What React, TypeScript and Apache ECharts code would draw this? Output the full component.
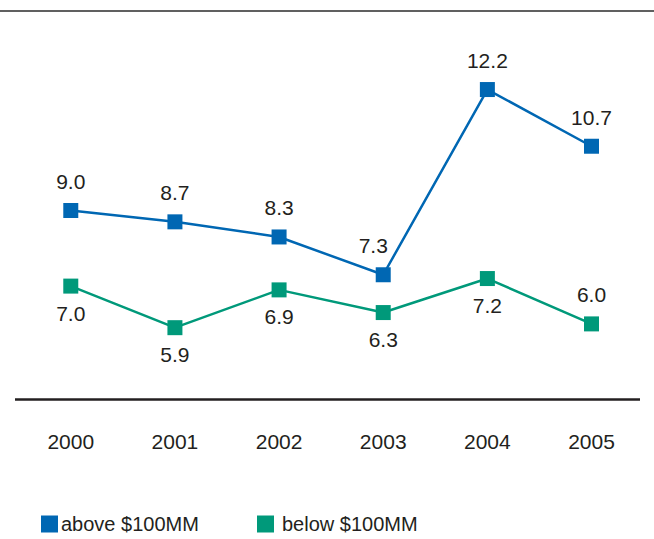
import React, { useEffect, useRef } from "react";
import * as echarts from "echarts";

const years = ["2000", "2001", "2002", "2003", "2004", "2005"];
const aboveValues = [9.0, 8.7, 8.3, 7.3, 12.2, 10.7];
const belowValues = [7.0, 5.9, 6.9, 6.3, 7.2, 6.0];
const belowLabelSide = ["bottom", "bottom", "bottom", "bottom", "bottom", "top"];
const aboveLabelShiftX = [0, 0, 0, -10, 0, 0];
const seriesNames = ["above $100MM", "below $100MM"];

const BLUE = "#0067b3";
const GREEN = "#00997a";
const TEXT = "#231f20";
const FONT = "'Liberation Sans', Arial, sans-serif";

export default function App() {
  const ref = useRef<HTMLDivElement>(null);
  useEffect(() => {
    if (!ref.current) return;
    const chart = echarts.init(ref.current, undefined, { renderer: "svg" });
    const labelCommon = {
      show: true,
      color: TEXT,
      fontFamily: FONT,
      fontSize: 21,
      formatter: (p: any) => Number(p.value).toFixed(1),
    };
    chart.setOption({
      animation: false,
      backgroundColor: "#ffffff",
      grid: { left: 18.7, right: 10.4, top: 21.5, bottom: 139.5 },
      xAxis: {
        type: "category",
        data: years,
        boundaryGap: true,
        axisLine: { show: false },
        axisTick: { show: false },
        axisLabel: { color: TEXT, fontFamily: FONT, fontSize: 21, margin: 31 },
      },
      yAxis: {
        type: "value",
        min: 4,
        max: 14,
        show: false,
        splitLine: { show: false },
      },
      legend: [
        {
          data: [seriesNames[0]],
          left: 41,
          top: 514,
          padding: 0,
          icon: "rect",
          itemWidth: 17,
          itemHeight: 17,
          textStyle: { color: TEXT, fontFamily: FONT, fontSize: 20, padding: [0, 0, 0, -2] },
        },
        {
          data: [seriesNames[1]],
          left: 257,
          top: 514,
          padding: 0,
          icon: "rect",
          itemWidth: 17,
          itemHeight: 17,
          textStyle: { color: TEXT, fontFamily: FONT, fontSize: 20, padding: [0, 0, 0, 3] },
        },
      ],
      graphic: [
        {
          type: "line",
          shape: { x1: 0, y1: 11, x2: 654, y2: 11 },
          style: { stroke: "#2b2b2b", lineWidth: 1.6 },
        },
        {
          type: "line",
          shape: { x1: 15, y1: 399.5, x2: 640, y2: 399.5 },
          style: { stroke: TEXT, lineWidth: 2.5 },
        },
      ],
      series: [
        {
          name: seriesNames[0],
          type: "line",
          data: aboveValues.map((v, i) => ({
            value: v,
            label: { offset: [aboveLabelShiftX[i], 0] },
          })),
          symbol: "rect",
          symbolSize: 15,
          itemStyle: { color: BLUE },
          lineStyle: { color: BLUE, width: 2.5 },
          label: { ...labelCommon, position: "top", distance: 11 },
        },
        {
          name: seriesNames[1],
          type: "line",
          data: belowValues.map((v, i) => ({
            value: v,
            label: { position: belowLabelSide[i], distance: belowLabelSide[i] === "top" ? 11 : 9 },
          })),
          symbol: "rect",
          symbolSize: 15,
          itemStyle: { color: GREEN },
          lineStyle: { color: GREEN, width: 2.5 },
          label: { ...labelCommon, position: "bottom", distance: 9 },
        },
      ],
    });
    return () => chart.dispose();
  }, []);
  return (
    <div
      ref={ref}
      style={{ position: "fixed", left: 0, top: 0, width: 654, height: 539 }}
    />
  );
}
